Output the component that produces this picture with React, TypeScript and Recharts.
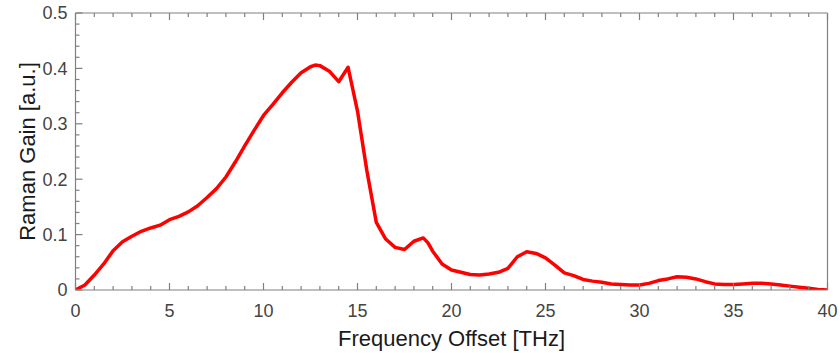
import React from 'react';
import { LineChart, Line, XAxis, YAxis } from 'recharts';

const freqTHz = [
  0, 0.5, 1, 1.5, 2, 2.5, 3, 3.5, 4, 4.5, 5, 5.5, 6, 6.5, 7, 7.5, 8, 8.5, 9, 9.5,
  10, 10.5, 11, 11.5, 12, 12.5, 12.75, 13, 13.5, 14, 14.5, 15, 15.5, 16, 16.5, 17, 17.5,
  18, 18.5, 18.75, 19, 19.5, 20, 20.5, 21, 21.5, 22, 22.5, 23, 23.5, 24, 24.5, 25, 25.5,
  26, 26.5, 27, 27.5, 28, 28.5, 29, 29.5, 30, 30.5, 31, 31.5, 32, 32.5, 33, 33.5, 34,
  34.5, 35, 35.5, 36, 36.5, 37, 37.5, 38, 38.5, 39, 39.5, 40,
];
const ramanGain = [
  0, 0.009, 0.027, 0.047, 0.071, 0.087, 0.097, 0.106, 0.112, 0.117, 0.127, 0.133, 0.141,
  0.152, 0.167, 0.183, 0.204, 0.231, 0.26, 0.288, 0.315, 0.335, 0.356, 0.375, 0.392, 0.403,
  0.406, 0.405, 0.395, 0.376, 0.402, 0.323, 0.215, 0.122, 0.092, 0.077, 0.073, 0.088, 0.094,
  0.085, 0.07, 0.047, 0.036, 0.032, 0.028, 0.027, 0.029, 0.032, 0.039, 0.06, 0.069, 0.066,
  0.058, 0.045, 0.031, 0.026, 0.019, 0.016, 0.014, 0.011, 0.01, 0.009, 0.009, 0.012, 0.017,
  0.02, 0.024, 0.023, 0.02, 0.015, 0.011, 0.01, 0.01, 0.011, 0.012, 0.012, 0.011, 0.009,
  0.007, 0.005, 0.003, 0.001, 0,
];
const xMajorTicks = [0, 5, 10, 15, 20, 25, 30, 35, 40];
const yMajorTicks = [0, 0.1, 0.2, 0.3, 0.4, 0.5];
const yMajorLabels = ['0', '0.1', '0.2', '0.3', '0.4', '0.5'];
const xAllTicks = Array.from({ length: 41 }, (_, i) => i);
const yAllTicks = Array.from({ length: 26 }, (_, i) => Math.round(i * 2) / 100);

const data = freqTHz.map((f, i) => ({ f, g: ramanGain[i] }));

const AXIS = '#808080';
const FONT = '"Liberation Sans", Arial, Helvetica, sans-serif';
const TICK_FILL = '#444444';

const isMajorX = (v: number) => xMajorTicks.includes(v);
const majorYIndex = (v: number) => yMajorTicks.findIndex((m) => Math.abs(m - v) < 1e-9);

function BottomTick(props: any) {
  const { x, y, payload } = props;
  const major = isMajorX(payload.value);
  return (
    <g>
      <line x1={x} x2={x} y1={y} y2={y - (major ? 7 : 4)} stroke={AXIS} strokeWidth={1.2} />
      {major && (
        <text x={x} y={y + 27} textAnchor="middle" fontSize={18} fill={TICK_FILL} fontFamily={FONT}>
          {payload.value}
        </text>
      )}
    </g>
  );
}

function TopTick(props: any) {
  const { x, y, payload } = props;
  const major = isMajorX(payload.value);
  return <line x1={x} x2={x} y1={y} y2={y + (major ? 7 : 4)} stroke={AXIS} strokeWidth={1.2} />;
}

function LeftTick(props: any) {
  const { x, y, payload } = props;
  const idx = majorYIndex(payload.value);
  const major = idx >= 0;
  return (
    <g>
      <line x1={x} x2={x + (major ? 7 : 4)} y1={y} y2={y} stroke={AXIS} strokeWidth={1.2} />
      {major && (
        <text x={x - 8} y={y} dy="0.35em" textAnchor="end" fontSize={18} fill={TICK_FILL} fontFamily={FONT}>
          {yMajorLabels[idx]}
        </text>
      )}
    </g>
  );
}

function RightTick(props: any) {
  const { x, y, payload } = props;
  const major = majorYIndex(payload.value) >= 0;
  return <line x1={x} x2={x - (major ? 7 : 4)} y1={y} y2={y} stroke={AXIS} strokeWidth={1.2} />;
}

export default function App() {
  return (
    <div style={{ position: 'absolute', left: 0, top: 0 }}>
      <LineChart
        width={840}
        height={353}
        data={data}
        margin={{ top: 12, right: 11.5, bottom: 0, left: 0.5 }}
      >
        <XAxis
          xAxisId="b"
          dataKey="f"
          type="number"
          domain={[0, 40]}
          ticks={xAllTicks}
          interval={0}
          height={63}
          tickSize={0}
          tickMargin={0}
          tickLine={false}
          tick={<BottomTick />}
          axisLine={{ stroke: AXIS, strokeWidth: 1.2 }}
          allowDataOverflow
          label={{
            value: 'Frequency Offset [THz]',
            position: 'insideTop',
            offset: 40,
            style: { fontSize: 22, fill: '#1a1a1a', fontFamily: FONT },
          }}
        />
        <XAxis
          xAxisId="t"
          dataKey="f"
          type="number"
          orientation="top"
          domain={[0, 40]}
          ticks={xAllTicks}
          interval={0}
          height={1}
          tickSize={0}
          tickMargin={0}
          tickLine={false}
          tick={<TopTick />}
          axisLine={{ stroke: AXIS, strokeWidth: 1.2 }}
        />
        <YAxis
          yAxisId="l"
          type="number"
          domain={[0, 0.5]}
          ticks={yAllTicks}
          interval={0}
          width={75}
          tickSize={0}
          tickMargin={0}
          tickLine={false}
          tick={<LeftTick />}
          axisLine={{ stroke: AXIS, strokeWidth: 1.2 }}
          allowDataOverflow
          label={{
            value: 'Raman Gain [a.u.]',
            angle: -90,
            position: 'insideLeft',
            offset: 26.5,
            style: { fontSize: 22, fill: '#1a1a1a', fontFamily: FONT, textAnchor: 'middle' },
          }}
        />
        <YAxis
          yAxisId="r"
          orientation="right"
          type="number"
          domain={[0, 0.5]}
          ticks={yAllTicks}
          interval={0}
          width={1}
          tickSize={0}
          tickMargin={0}
          tickLine={false}
          tick={<RightTick />}
          axisLine={{ stroke: AXIS, strokeWidth: 1.2 }}
        />
        <Line
          xAxisId="b"
          yAxisId="l"
          type="linear"
          dataKey="g"
          stroke="#ff0000"
          strokeWidth={3.5}
          dot={false}
          isAnimationActive={false}
          strokeLinejoin="round"
          strokeLinecap="round"
        />
      </LineChart>
    </div>
  );
}
